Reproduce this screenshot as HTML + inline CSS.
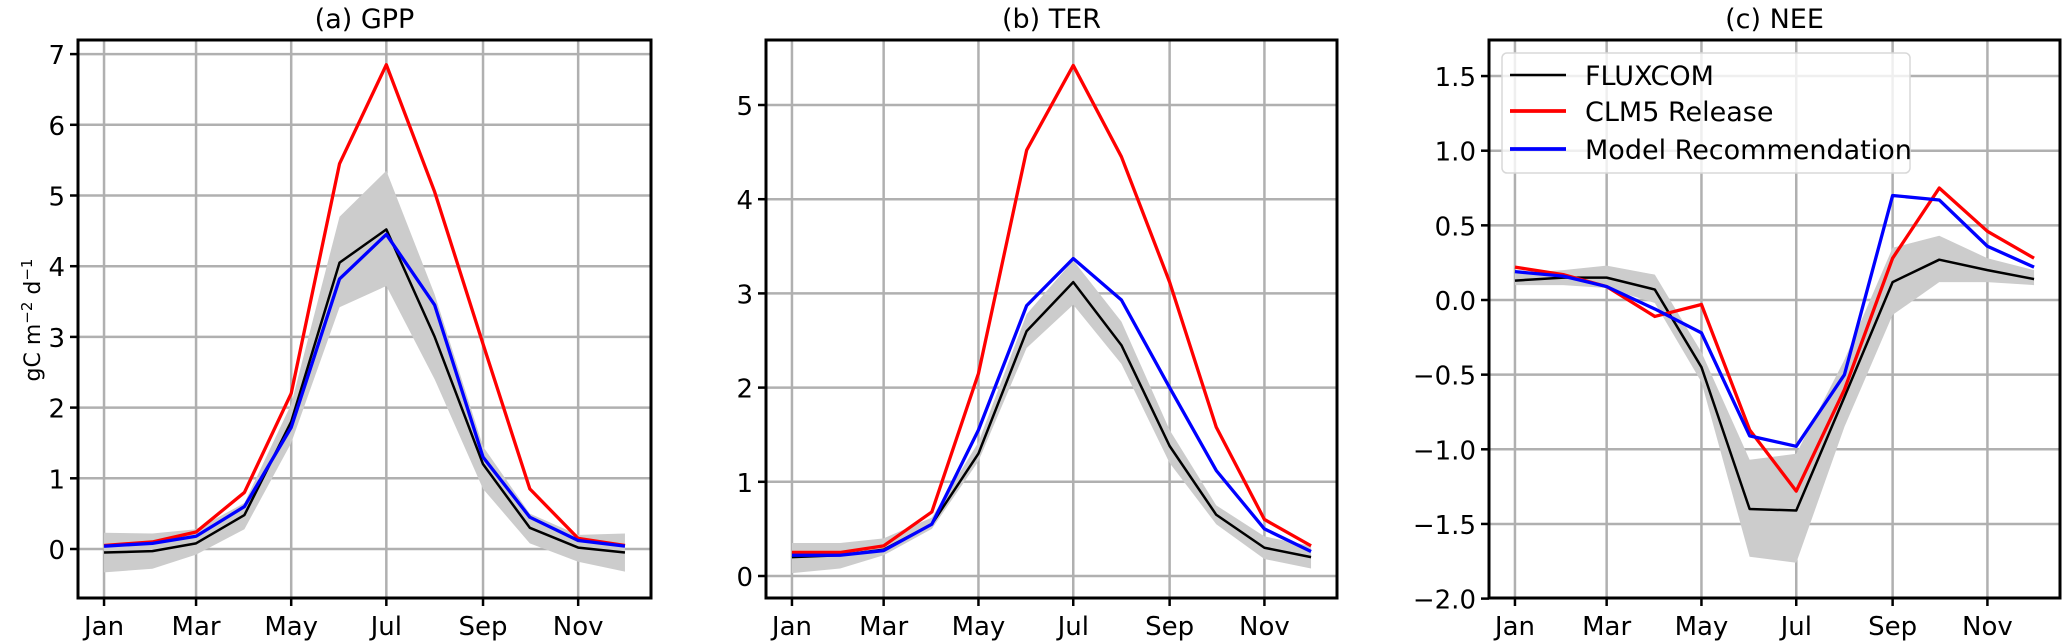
<!DOCTYPE html>
<html><head><meta charset="utf-8"><style>
body{margin:0;background:#fff;width:2067px;height:643px;overflow:hidden}
svg{display:block;font-family:"DejaVu Sans","Liberation Sans",sans-serif}
</style></head><body>
<svg id="fig" width="2067" height="643" viewBox="0 0 2067 643" xmlns="http://www.w3.org/2000/svg"></svg>
<script>
const months = ["Jan","Feb","Mar","Apr","May","Jun","Jul","Aug","Sep","Oct","Nov","Dec"];
const monthDays = [1,32,60,91,121,152,182,213,244,274,305,335];
const tickMonths = ["Jan","Mar","May","Jul","Sep","Nov"];
const tickDays = [1,60,121,182,244,305];

const gppFluxcom = [-0.05,-0.03,0.08,0.48,1.8,4.05,4.52,3.0,1.2,0.3,0.02,-0.05];
const gppClm5 = [0.05,0.1,0.24,0.8,2.2,5.45,6.85,5.05,2.9,0.85,0.15,0.05];
const gppModel = [0.04,0.08,0.18,0.6,1.72,3.82,4.45,3.45,1.3,0.45,0.12,0.04];
const gppLow = [-0.33,-0.28,-0.08,0.28,1.5,3.42,3.72,2.4,0.85,0.08,-0.18,-0.32];
const gppHigh = [0.23,0.22,0.28,0.65,2.05,4.7,5.35,3.6,1.45,0.5,0.2,0.22];
const gppTicks = [0,1,2,3,4,5,6,7];

const terFluxcom = [0.2,0.22,0.28,0.55,1.3,2.6,3.12,2.45,1.38,0.65,0.3,0.2];
const terClm5 = [0.25,0.25,0.32,0.68,2.15,4.52,5.42,4.45,3.12,1.58,0.6,0.32];
const terModel = [0.22,0.22,0.27,0.55,1.55,2.87,3.37,2.93,2.0,1.12,0.5,0.26];
const terLow = [0.03,0.08,0.22,0.5,1.22,2.42,2.88,2.25,1.2,0.55,0.18,0.08];
const terHigh = [0.35,0.35,0.4,0.62,1.42,2.78,3.35,2.7,1.55,0.75,0.42,0.32];
const terTicks = [0,1,2,3,4,5];

const neeFluxcom = [0.13,0.15,0.15,0.07,-0.45,-1.4,-1.41,-0.65,0.12,0.27,0.2,0.14];
const neeClm5 = [0.22,0.17,0.09,-0.11,-0.03,-0.87,-1.28,-0.6,0.28,0.75,0.46,0.28];
const neeModel = [0.19,0.16,0.09,-0.06,-0.22,-0.91,-0.98,-0.5,0.7,0.67,0.36,0.22];
const neeLow = [0.1,0.1,0.08,-0.02,-0.55,-1.72,-1.76,-0.85,-0.1,0.12,0.12,0.1];
const neeHigh = [0.18,0.2,0.23,0.17,-0.35,-1.07,-1.03,-0.4,0.35,0.43,0.28,0.2];
const neeTicks = [-2.0,-1.5,-1.0,-0.5,0.0,0.5,1.0,1.5];

const NS="http://www.w3.org/2000/svg";
const svg=document.getElementById('fig');
function mk(tag,attrs,parent){const e=document.createElementNS(NS,tag);for(const k in attrs)e.setAttribute(k,attrs[k]);(parent||svg).appendChild(e);return e;}

const panels=[
 {key:'gpp',title:'(a) GPP',left:78,right:651,top:40,bottom:598,yPix0:549,yPerUnit:70.7,ticks:gppTicks,fmt:v=>String(v),f:gppFluxcom,c:gppClm5,m:gppModel,lo:gppLow,hi:gppHigh},
 {key:'ter',title:'(b) TER',left:766,right:1337,top:40,bottom:598,yPix0:576,yPerUnit:94.2,ticks:terTicks,fmt:v=>String(v),f:terFluxcom,c:terClm5,m:terModel,lo:terLow,hi:terHigh},
 {key:'nee',title:'(c) NEE',left:1489,right:2060,top:40,bottom:598,yPix0:300,yPerUnit:149.3,ticks:neeTicks,fmt:v=>(v<0?'\u2212':'')+Math.abs(v).toFixed(1),f:neeFluxcom,c:neeClm5,m:neeModel,lo:neeLow,hi:neeHigh}
];
const X0=-15.7,X1=351.7;

panels.forEach(p=>{
  const sx=d=>p.left+(d-X0)/(X1-X0)*(p.right-p.left);
  const sy=v=>p.yPix0-v*p.yPerUnit;
  const g=mk('g',{});
  
  
  const clipId='clip-'+p.key;
  const cp=mk('clipPath',{id:clipId},g);
  mk('rect',{x:p.left,y:p.top,width:p.right-p.left,height:p.bottom-p.top},cp);
  const grid=mk('g',{'clip-path':'url(#'+clipId+')'},g);
  
  
  tickDays.forEach(d=>mk('line',{x1:sx(d),x2:sx(d),y1:p.top,y2:p.bottom,stroke:'#b0b0b0','stroke-width':2.5},grid));
  p.ticks.forEach(t=>mk('line',{x1:p.left,x2:p.right,y1:sy(t),y2:sy(t),stroke:'#b0b0b0','stroke-width':2.5},grid));
  const data=mk('g',{'clip-path':'url(#'+clipId+')'},g);
  let pts=monthDays.map((d,i)=>sx(d)+','+sy(p.hi[i]));
  for(let i=11;i>=0;i--)pts.push(sx(monthDays[i])+','+sy(p.lo[i]));
  const band=mk('polygon',{points:pts.join(' '),fill:'#cccccc',stroke:'none'},data);
  
  
  const line=(arr,col,w,name)=>{const l=mk('polyline',{points:monthDays.map((d,i)=>sx(d)+','+sy(arr[i])).join(' '),fill:'none',stroke:col,'stroke-width':w,'stroke-linejoin':'round'},data);
    
    };
  line(p.f,'#000',2.5,p.key+'-fluxcom-line');
  line(p.c,'#ff0000',3.3,p.key+'-clm5-line');
  line(p.m,'#0000ff',3.3,p.key+'-model-line');
  const frame=mk('rect',{x:p.left,y:p.top,width:p.right-p.left,height:p.bottom-p.top,fill:'none',stroke:'#000','stroke-width':3},g);
  
  
  tickDays.forEach((d,i)=>{
    mk('line',{x1:sx(d),x2:sx(d),y1:p.bottom,y2:p.bottom+8,stroke:'#000','stroke-width':2.5},g);
    const t=mk('text',{x:sx(d),y:p.bottom+37,'text-anchor':'middle','font-size':26},g);
    t.textContent=tickMonths[i];
    
    
  });
  p.ticks.forEach(v=>{
    mk('line',{x1:p.left-8,x2:p.left,y1:sy(v),y2:sy(v),stroke:'#000','stroke-width':2.5},g);
    const t=mk('text',{x:p.left-13,y:sy(v)+10,'text-anchor':'end','font-size':26},g);
    t.textContent=p.fmt(v);
    
    
  });
  const tt=mk('text',{x:(p.left+p.right)/2,y:28,'text-anchor':'middle','font-size':27},g);
  tt.textContent=p.title;
  
  
});

const yl=mk('text',{x:0,y:0,'text-anchor':'middle','font-size':22,transform:'translate(40,320) rotate(-90)'});
yl.innerHTML='gC m<tspan dy="-8" font-size="15">\u22122</tspan><tspan dy="8"> d</tspan><tspan dy="-8" font-size="15">\u22121</tspan>';



const lg=mk('g',{});


mk('rect',{x:1502,y:53,width:408,height:120,rx:5,fill:'#fff','fill-opacity':0.8,stroke:'#d8d8d8','stroke-width':1.5},lg);
const entries=[['FLUXCOM','#000',2.5,75],['CLM5 Release','#ff0000',3.8,111],['Model Recommendation','#0000ff',3.8,149]];
entries.forEach(e=>{
  const eg=mk('g',{},lg);
  
  
  mk('line',{x1:1510,x2:1566,y1:e[3],y2:e[3],stroke:e[1],'stroke-width':e[2]},eg);
  const t=mk('text',{x:1585,y:e[3]+10,'font-size':27},eg);
  t.textContent=e[0];
});
</script>
</body></html>
